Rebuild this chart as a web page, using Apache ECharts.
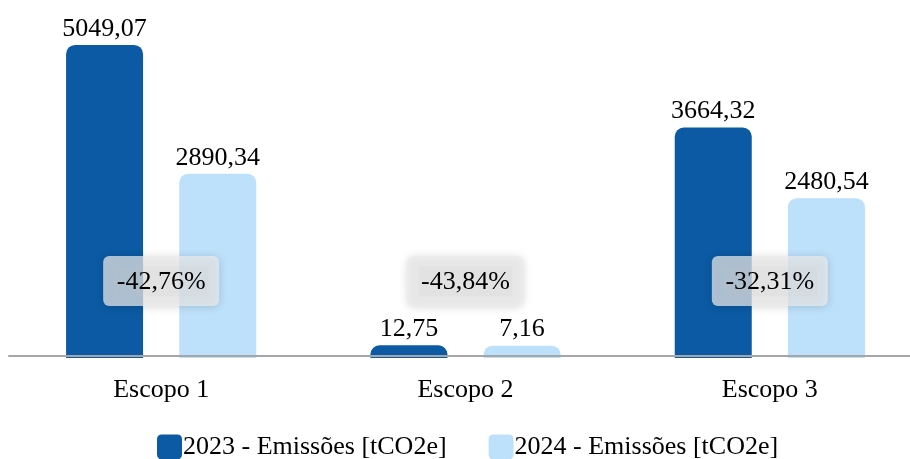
<!DOCTYPE html>
<html>
<head>
<meta charset="utf-8">
<style>
  html, body { margin: 0; padding: 0; background: #ffffff; }
  #chart { width: 910px; height: 459px; }
</style>
<script src="https://cdn.jsdelivr.net/npm/echarts@6/dist/echarts.min.js"></script>
</head>
<body>
<div id="chart"></div>
<script>
// Emissões por escopo (tCO2e)
const categories = ['Escopo 1', 'Escopo 2', 'Escopo 3'];
const seriesNames = ['2023 - Emissões [tCO2e]', '2024 - Emissões [tCO2e]'];
const emissions2023 = [5049.07, 12.75, 3664.32];
const emissions2024 = [2890.34, 7.16, 2480.54];

// Variação percentual 2023 -> 2024
const variation = emissions2023.map((v, i) => (emissions2024[i] - v) / v * 100);

const fmt = (v, d) => v.toFixed(d).replace('.', ',');
const serif = '"Liberation Serif", "Times New Roman", serif';

const chart = echarts.init(document.getElementById('chart'));

const barLabel = {
  show: true,
  position: 'top',
  distance: 3,
  color: '#000',
  fontFamily: serif,
  fontSize: 26,
  formatter: p => fmt(p.value, 2)
};

chart.setOption({
  animation: false,
  grid: { left: 9, width: 913, top: 30, bottom: 101, containLabel: false, outerBoundsMode: 'none' },
  legend: {
    data: seriesNames,
    left: 157,
    top: 434,
    padding: 0,
    itemWidth: 25,
    itemHeight: 25,
    itemGap: 42,
    icon: 'path://M5,0 L20,0 Q25,0 25,5 L25,20 Q25,25 20,25 L5,25 Q0,25 0,20 L0,5 Q0,0 5,0 Z',
    textStyle: { fontFamily: serif, fontSize: 26, color: '#000', padding: [0, 0, 0, -4] }
  },
  xAxis: {
    type: 'category',
    data: categories,
    offset: -2,
    z: 5,
    axisLine: { show: true, onZero: false, lineStyle: { color: '#a6a6a6', width: 2 } },
    axisTick: { show: false },
    axisLabel: { color: '#000', fontFamily: serif, fontSize: 26, margin: 21 }
  },
  yAxis: {
    type: 'value',
    min: -200,
    max: 5300,
    startValue: -200,
    show: false,
    splitLine: { show: false }
  },
  series: [
    {
      name: seriesNames[0],
      type: 'bar',
      data: emissions2023,
      barWidth: 77,
      barGap: '47%',
      itemStyle: { color: '#0b5aa3', borderRadius: [9, 9, 0, 0] },
      label: barLabel
    },
    {
      name: seriesNames[1],
      type: 'bar',
      data: emissions2024,
      barWidth: 77,
      itemStyle: { color: '#bde0fb', borderRadius: [9, 9, 0, 0] },
      label: barLabel
    },
    {
      // caixas com a variação percentual, centradas em cada escopo
      type: 'custom',
      z: 10,
      clip: false,
      silent: true,
      data: variation.map((v, i) => [i, v]),
      renderItem: (params, api) => {
        const base = api.coord([api.value(0), 0]);
        const cx = base[0];
        const cy = base[1] - 65;
        const w = 116, h = 50;
        return {
          type: 'group',
          children: [
            {
              type: 'rect',
              shape: { x: cx - w / 2, y: cy - h / 2, width: w, height: h, r: 6 },
              style: {
                fill: 'rgba(236,236,236,0.72)',
                shadowBlur: 9,
                shadowColor: 'rgba(0,0,0,0.22)',
                shadowOffsetY: 1
              }
            },
            {
              type: 'rect',
              shape: { x: cx - 47, y: cy - 15, width: 94, height: 30 },
              style: { fill: 'rgba(200,200,200,0.12)' }
            },
            {
              type: 'text',
              style: {
                x: cx, y: cy + 1,
                text: fmt(api.value(1), 2) + '%',
                fill: '#000',
                font: '26px ' + serif,
                align: 'center',
                verticalAlign: 'middle'
              }
            }
          ]
        };
      }
    }
  ]
});
</script>
</body>
</html>
